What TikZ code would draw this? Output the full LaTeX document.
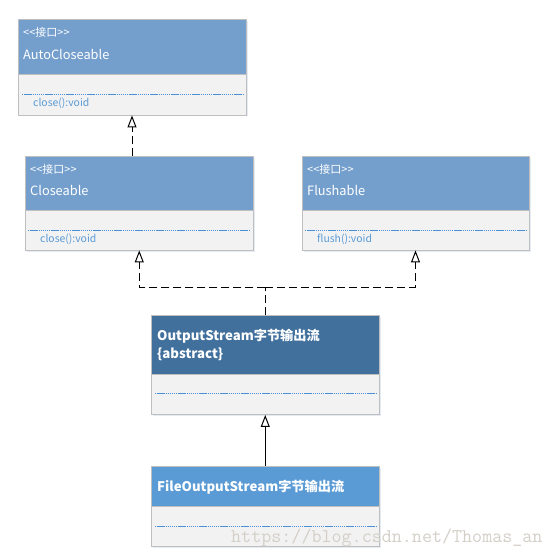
\documentclass[tikz,border=0pt]{standalone}
\usepackage{fontspec}
\setmainfont{Noto Sans CJK SC}
\usetikzlibrary{arrows.meta}
\definecolor{hdr}{HTML}{749FCD}
\definecolor{hdrdark}{HTML}{41709C}
\definecolor{hdrmid}{HTML}{5B9BD5}
\definecolor{bodyc}{HTML}{F2F2F2}
\definecolor{bord}{HTML}{BFBFBF}
\definecolor{meth}{HTML}{5B9BD5}
\definecolor{sepc}{HTML}{4A90D9}
\definecolor{wm}{HTML}{D4D0C8}
\definecolor{shadowc}{HTML}{E4EBF4}
\begin{document}
\begin{tikzpicture}[x=1pt,y=-1pt,
  classbox/.style={draw=bord, fill=bodyc, line width=0.9pt, inner sep=0pt,
    preaction={fill=shadowc, transform canvas={shift={(1.5pt,-1.5pt)}}}},
  hdrbox/.style={draw=bord, line width=0.9pt, inner sep=0pt, anchor=north},
  sepline/.style={draw=sepc, line width=0.8pt, dash pattern=on 1.4pt off 0.7pt},
  stereo/.style={text=white, anchor=west, inner sep=0pt, font=\fontsize{11}{12}\selectfont},
  cname/.style={text=white, anchor=west, inner sep=0pt, font=\fontsize{12.8}{14}\selectfont},
  bname/.style={text=white, anchor=west, inner sep=0pt, align=left, font=\bfseries\fontsize{13.2}{18}\selectfont},
  meth/.style={text=meth, anchor=west, inner sep=0pt, font=\fontsize{10.4}{12}\selectfont},
  dep/.style={draw=black, line width=1pt, dash pattern=on 8pt off 4pt, -{Triangle[open, length=12pt, width=9pt, fill=white]}},
  gen/.style={draw=black, line width=1pt, -{Triangle[open, length=12pt, width=9pt, fill=white]}},
  dashln/.style={draw=black, line width=1pt, dash pattern=on 8pt off 4pt}
]
\fill[white] (0,0) rectangle (553,559);
\useasboundingbox (0,0) rectangle (553,559);

% AutoCloseable
\node[classbox, minimum width=228pt, minimum height=95.5pt] (ac) at (132,67.25) {};
\node[hdrbox, fill=hdr, minimum width=228pt, minimum height=54.5pt] (ach) at (ac.north) {};
\draw[sepline] (22,94) -- (243,94);
\node[stereo] (acs) at (23,32) {<{}<接口>{}>};
\node[cname] (acn) at (23,54) {AutoCloseable};
\node[meth] (acm) at (33,103) {close():void};

% Closeable
\node[classbox, minimum width=227.5pt, minimum height=93.5pt] (cl) at (139.25,203.25) {};
\node[hdrbox, fill=hdr, minimum width=227.5pt, minimum height=53.5pt] (clh) at (cl.north) {};
\draw[sepline] (28,230) -- (250,230);
\node[stereo] (cls) at (30,169) {<{}<接口>{}>};
\node[cname] (cln) at (30,190) {Closeable};
\node[meth] (clm) at (40,239) {close():void};

% Flushable
\node[classbox, minimum width=227pt, minimum height=93.5pt] (fl) at (415.5,203.25) {};
\node[hdrbox, fill=hdr, minimum width=227pt, minimum height=53.5pt] (flh) at (fl.north) {};
\draw[sepline] (305,230) -- (526,230);
\node[stereo] (fls) at (307,169) {<{}<接口>{}>};
\node[cname] (fln) at (307,190) {Flushable};
\node[meth] (flm) at (317,239) {flush():void};

% OutputStream
\node[classbox, minimum width=227.5pt, minimum height=99pt] (os) at (265.25,365) {};
\node[hdrbox, fill=hdrdark, minimum width=227.5pt, minimum height=58.5pt] (osh) at (os.north) {};
\draw[sepline] (155,393) -- (376,393);
\node[bname] (osn) at (157,345) {OutputStream字节输出流\\\{abstract\}};

% FileOutputStream
\node[classbox, minimum width=227.5pt, minimum height=79.5pt] (fos) at (265.25,506.25) {};
\node[hdrbox, fill=hdrmid, minimum width=227.5pt, minimum height=40pt] (fosh) at (fos.north) {};
\draw[sepline] (155,526) -- (376,526);
\node[bname] (fosn) at (157,487) {FileOutputStream字节输出流};

% connectors
\coordinate (j) at (265.25,287);
\draw[dep] (cl.north -| ac.south) -- (ac.south);
\draw[dashln] (os.north) -- (j);
\draw[dep] (j) -| (cl.south);
\draw[dep] (j) -| (fl.south);
\draw[gen] (fos.north) -- (os.south);

% watermark
\node[text=wm, anchor=west, inner sep=0pt, font=\ttfamily\fontsize{19.5}{20}\selectfont] (wmk) at (231,538) {https://blog.csdn.net/Thomas\_an};
\end{tikzpicture}
\end{document}
